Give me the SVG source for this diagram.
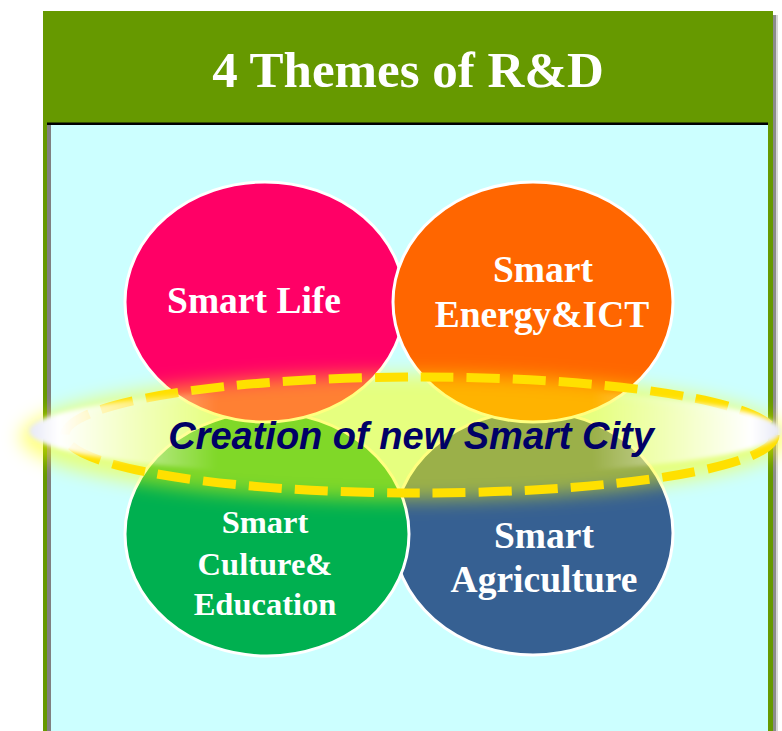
<svg xmlns="http://www.w3.org/2000/svg" width="782" height="731" viewBox="0 0 782 731">
  <defs>
    <style>
      .circle { stroke: #FFFFFF; stroke-width: 3; }
      .label { font-family: "Liberation Serif", "Times New Roman", serif; font-weight: bold; fill: #FFFFFF; text-anchor: middle; }
    </style>
    <filter id="blur" x="-20%" y="-80%" width="140%" height="260%">
      <feGaussianBlur stdDeviation="9"/>
    </filter>
    <filter id="blurSmall" x="-10%" y="-50%" width="120%" height="200%">
      <feGaussianBlur stdDeviation="2"/>
    </filter>
    <linearGradient id="whiteEnds" x1="0" y1="0" x2="1" y2="0">
      <stop offset="0" stop-color="#E6E8F6" stop-opacity="1"/>
      <stop offset="0.04" stop-color="#FFFFFF" stop-opacity="1"/>
      <stop offset="0.13" stop-color="#FFFFFF" stop-opacity="0.55"/>
      <stop offset="0.25" stop-color="#FFFFFF" stop-opacity="0"/>
      <stop offset="0.75" stop-color="#FFFFFF" stop-opacity="0"/>
      <stop offset="0.87" stop-color="#FFFFFF" stop-opacity="0.55"/>
      <stop offset="0.96" stop-color="#FFFFFF" stop-opacity="1"/>
      <stop offset="1" stop-color="#E6E8F6" stop-opacity="1"/>
    </linearGradient>
  </defs>

  <rect width="782" height="731" fill="#FFFFFF"/>

  <g id="frame">
    <rect x="773" y="15" width="3" height="716" fill="#8C8C8C"/>
    <rect x="776" y="15" width="2" height="716" fill="#D6D6D6"/>
    <rect x="43" y="11" width="730" height="720" fill="#669900"/>
    <rect x="47" y="123" width="721" height="608" fill="#CCFFFF"/>
    <rect x="47" y="123" width="4" height="608" fill="#808080"/>
    <rect x="47" y="122.5" width="721" height="2.5" fill="#000000"/>
  </g>

  <g id="header">
    <text x="408" y="87" class="label" font-size="51">4 Themes of R&amp;D</text>
  </g>

  <g id="smart-agriculture">
    <ellipse class="circle" cx="533" cy="533" rx="140" ry="122" fill="#366092"/>
    <text class="label" font-size="37.5" x="544" y="548">Smart</text>
    <text class="label" font-size="37.5" x="544" y="592">Agriculture</text>
  </g>

  <g id="smart-culture-education">
    <ellipse class="circle" cx="267" cy="534" rx="142" ry="122" fill="#00B050"/>
    <text class="label" font-size="32.5" x="265" y="533">Smart</text>
    <text class="label" font-size="32.5" x="265" y="575">Culture&amp;</text>
    <text class="label" font-size="32.5" x="265" y="615">Education</text>
  </g>

  <g id="smart-life">
    <ellipse class="circle" cx="265" cy="302" rx="140" ry="120" fill="#FF0066"/>
    <text class="label" font-size="37.5" x="254" y="313">Smart Life</text>
  </g>

  <g id="smart-energy-ict">
    <ellipse class="circle" cx="533" cy="302" rx="140" ry="120" fill="#FF6600"/>
    <text class="label" font-size="37.5" x="543" y="282">Smart</text>
    <text class="label" font-size="37.5" x="542" y="327">Energy&amp;ICT</text>
  </g>

  <g id="smart-city-band">
    <ellipse cx="405" cy="437" rx="385" ry="63" fill="#FFFF00" fill-opacity="0.5" filter="url(#blur)"/>
    <ellipse cx="420" cy="435" rx="355" ry="58" fill="none" stroke="#FFE000" stroke-width="9" stroke-dasharray="33 13"/>
    <ellipse cx="405" cy="431" rx="376" ry="45" fill="url(#whiteEnds)" filter="url(#blurSmall)"/>
    <text x="411" y="449" font-family="'Liberation Sans', Arial, sans-serif" font-weight="bold" font-style="italic" font-size="38" fill="#000066" text-anchor="middle">Creation of new Smart City</text>
  </g>
</svg>
